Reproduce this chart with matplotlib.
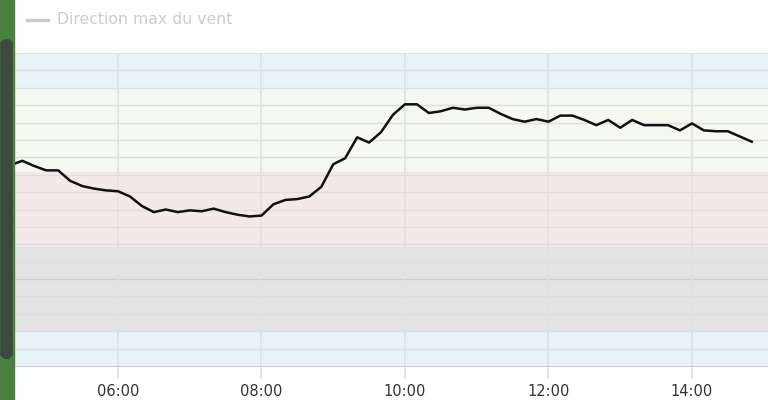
import matplotlib
matplotlib.use("Agg")
from matplotlib import pyplot as plt
from matplotlib.patches import Rectangle, FancyBboxPatch
import numpy as np

# wind direction, one reading every 10 minutes
times = ["04:30", "04:40", "04:50", "05:00", "05:10", "05:20", "05:30", "05:40", "05:50",
         "06:00", "06:10", "06:20", "06:30", "06:40", "06:50", "07:00", "07:10", "07:20",
         "07:30", "07:40", "07:50", "08:00", "08:10", "08:20", "08:30", "08:40", "08:50",
         "09:00", "09:10", "09:20", "09:30", "09:40", "09:50", "10:00", "10:10", "10:20",
         "10:30", "10:40", "10:50", "11:00", "11:10", "11:20", "11:30", "11:40", "11:50",
         "12:00", "12:10", "12:20", "12:30", "12:40", "12:50", "13:00", "13:10", "13:20",
         "13:30", "13:40", "13:50", "14:00", "14:10", "14:20", "14:30", "14:40", "14:50"]
direction = [231, 236, 230, 225, 225, 213, 207, 204, 202,
             201, 195, 184, 177, 180, 177, 179, 178, 181,
             177, 174, 172, 173, 186, 191, 192, 195, 206,
             232, 239, 263, 257, 269, 289, 301, 301, 291,
             293, 297, 295, 297, 297, 290, 284, 281, 284,
             281, 288, 288, 283, 277, 283, 274, 283, 277,
             277, 277, 271, 279, 271, 270, 270, 264, 258]

# background bands (from, to, colour)
band_lo = [0, 40, 137, 223, 320]
band_hi = [40, 137, 223, 320, 360]
band_col = ["#e8f3f8", "#e3e3e3", "#f4e9e9", "#f4f8ee", "#e8f3f8"]

tick_hours = [6, 8, 10, 12, 14]

hours = np.array([int(t[:2]) + int(t[3:]) / 60.0 for t in times])

fig = plt.figure(figsize=(7.68, 4.0), dpi=100)
ax = fig.add_axes([14 / 768, 34 / 400, 1 - 14 / 768, 313 / 400])

for lo, hi, c in zip(band_lo, band_hi, band_col):
    ax.axhspan(lo, hi, color=c, lw=0, zorder=0)

for v in range(20, 360, 20):
    ax.axhline(v, color="#cfcfcf" if v == 100 else "#dedede", lw=1, zorder=1)
for h in tick_hours:
    ax.axvline(h, color="#dde2e8", lw=1.3, zorder=1)

ax.plot(hours, direction, color="#111111", lw=1.8, zorder=3)

ax.set_xlim(4.5505, 15.06)
ax.set_ylim(0, 360)
ax.set_yticks([])
ax.set_xticks(tick_hours)
ax.set_xticklabels(["%02d:00" % h for h in tick_hours], fontsize=10.5, color="#333333")
ax.tick_params(axis="x", length=9, width=1.3, color="#dde2e8", pad=4)
for s in ["left", "right"]:
    ax.spines[s].set_visible(False)
ax.spines["bottom"].set_color("#cccccc")
ax.spines["top"].set_color("#e2e2e2")

# legend (hidden series, greyed)
fig.add_artist(plt.Line2D([27 / 768, 48 / 768], [1 - 20 / 400, 1 - 20 / 400],
                          color="#cccccc", lw=2.5))
fig.text(57 / 768, 1 - 20 / 400, "Direction max du vent", color="#cccccc",
         fontsize=11.3, va="center")

# strip of page background on the left
fig.add_artist(Rectangle((0, 0), 14 / 768, 1, transform=fig.transFigure,
                         color="#4a8040", zorder=5))
fig.add_artist(FancyBboxPatch((1 / 768, 42 / 400), 11 / 768, 318 / 400,
                              boxstyle="round,pad=0,rounding_size=0.01",
                              transform=fig.transFigure, color="#3a4a3e", zorder=6))

fig.savefig("out.png", dpi=100)
